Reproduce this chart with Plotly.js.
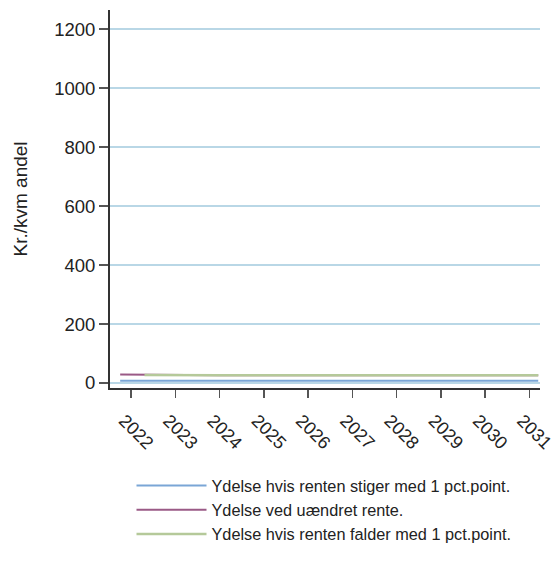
<!DOCTYPE html>
<html><head><meta charset="utf-8">
<script src="https://cdn.plot.ly/plotly-3.0.1.min.js"></script>
<style>html,body{margin:0;padding:0;background:#fff}#c{width:555px;height:564px}</style>
</head><body><div id="c"></div><script>
const xPoints = [2021.75, 2022.3, 2023, 2024, 2025, 2026, 2027, 2028, 2029, 2030, 2031, 2031.2];
const stiger = [8, 8, 8, 8, 8, 8, 8, 8, 8, 8, 8, 8];
const uaendret = [29, 28, 26, 26, 26, 26, 26, 26, 26, 26, 26, 26];
const falder = [null, 27, 26, 26, 26, 26, 26, 26, 26, 26, 26, 26];
const seriesNames = ["Ydelse hvis renten stiger med 1 pct.point.", "Ydelse ved uændret rente.", "Ydelse hvis renten falder med 1 pct.point."];
const yTicks = [0, 200, 400, 600, 800, 1000, 1200];
const xTicks = [2022, 2023, 2024, 2025, 2026, 2027, 2028, 2029, 2030, 2031];
const darkGrid = 1000;

const font = {family: "Liberation Sans, Arial, sans-serif", color: "#222"};
const traces = [
  {x: xPoints, y: stiger, name: seriesNames[0], mode: "lines", line: {color: "#7aa6d6", width: 2}},
  {x: xPoints, y: uaendret, name: seriesNames[1], mode: "lines", line: {color: "#9a5a86", width: 2}},
  {x: xPoints, y: falder, name: seriesNames[2], mode: "lines", line: {color: "#b5c99a", width: 2.5}}
];
const layout = {
  width: 555, height: 564,
  margin: {l: 110, r: 15, t: 10, b: 176},
  paper_bgcolor: "#fff", plot_bgcolor: "#fff",
  font: Object.assign({size: 16}, font),
  showlegend: true,
  legend: {x: 0.05, xanchor: "left", y: -0.213, yanchor: "top", orientation: "v",
           font: Object.assign({size: 16.3}, font), tracegroupgap: 0, itemwidth: 70},
  xaxis: {range: [2021.52, 2031.24], tickvals: xTicks, ticktext: xTicks.map(String),
          tickangle: 45, showgrid: false, zeroline: false, showline: true, linecolor: "#333", linewidth: 2,
          ticks: "outside", ticklen: 8, tickcolor: "#555", tickwidth: 1.5, ticklabeloverflow: "allow",
          ticklabelshift: -7, ticklabelstandoff: 5,
          tickfont: Object.assign({size: 18}, font)},
  yaxis: {range: [-17, 1265], tickvals: yTicks, ticktext: yTicks.map(String),
          showgrid: true, gridcolor: "#b9d7e6", gridwidth: 1.5, zeroline: false,
          showline: true, linecolor: "#333", linewidth: 2,
          ticks: "outside", ticklen: 9, tickcolor: "#555", tickwidth: 1.5,
          tickfont: Object.assign({size: 18.5}, font),
          title: {text: "Kr./kvm andel", font: Object.assign({size: 19}, font), standoff: 21}},
  shapes: [{type: "line", xref: "paper", x0: 0, x1: 1, yref: "y", y0: darkGrid, y1: darkGrid,
            line: {color: "#4a5f7a", width: 1.5}, layer: "below"}]
};
Plotly.newPlot("c", traces, layout, {displayModeBar: false, staticPlot: true});
</script></body></html>
